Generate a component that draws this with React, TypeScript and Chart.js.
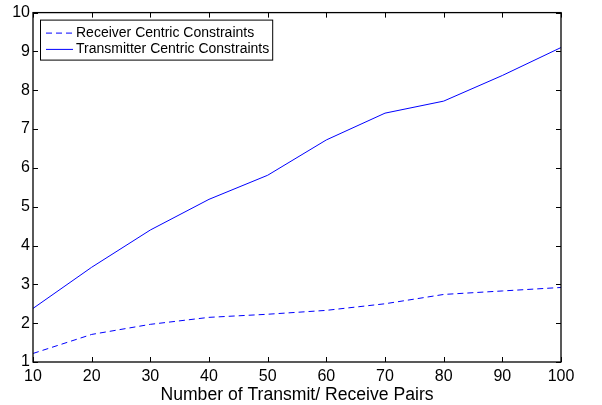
import React, { useEffect, useRef } from 'react';
import { Chart, registerables } from 'chart.js';

Chart.register(...registerables);

const pairs = [10, 20, 30, 40, 50, 60, 70, 80, 90, 100];
const receiverCentric = [1.22, 1.71, 1.97, 2.15, 2.23, 2.33, 2.5, 2.74, 2.83, 2.92];
const transmitterCentric = [2.38, 3.44, 4.4, 5.19, 5.81, 6.72, 7.41, 7.72, 8.38, 9.1];
const seriesNames = ['Receiver Centric Constraints', 'Transmitter Centric Constraints'];
const xTitle = 'Number of Transmit/ Receive Pairs';
const xRange = [10, 100];
const yRange = [1, 10];

const FAMILY = "'Liberation Sans', Arial, Helvetica, sans-serif";

const boxTicksPlugin = {
  id: 'boxTicks',
  afterDatasetsDraw(chart: any) {
    const { ctx, chartArea, scales } = chart;
    const { left, right, top, bottom } = chartArea;
    const xs = scales.x;
    const ys = scales.y;
    const len = 5;
    ctx.save();
    ctx.strokeStyle = '#000';
    ctx.lineWidth = 1;
    ctx.beginPath();
    xs.ticks.forEach((t: any) => {
      const px = Math.round(xs.getPixelForValue(t.value)) + 0.5;
      ctx.moveTo(px, bottom);
      ctx.lineTo(px, bottom - len);
      ctx.moveTo(px, top);
      ctx.lineTo(px, top + len);
    });
    ys.ticks.forEach((t: any) => {
      const py = Math.round(ys.getPixelForValue(t.value)) + 0.5;
      ctx.moveTo(left, py);
      ctx.lineTo(left + len, py);
      ctx.moveTo(right, py);
      ctx.lineTo(right - len, py);
    });
    ctx.stroke();
    ctx.lineWidth = 1.3;
    ctx.strokeRect(left, top, right - left, bottom - top);
    ctx.restore();
  },
};

const legendBoxPlugin = {
  id: 'legendBox',
  afterDraw(chart: any) {
    const { ctx, chartArea } = chart;
    const x0 = chartArea.left + 7;
    const y0 = chartArea.top + 7;
    ctx.save();
    ctx.font = `14px ${FAMILY}`;
    const texts = chart.data.datasets.map((d: any) => d.label);
    const maxW = Math.max(...texts.map((t: string) => ctx.measureText(t).width));
    const textX = x0 + 36;
    const w = textX - x0 + maxW + 3;
    const h = 40;
    ctx.fillStyle = '#fff';
    ctx.fillRect(x0, y0, w, h);
    ctx.strokeStyle = '#000';
    ctx.lineWidth = 1;
    ctx.strokeRect(x0 + 0.5, y0 + 0.5, w, h);
    chart.data.datasets.forEach((d: any, i: number) => {
      const yy = y0 + 13.5 + i * 16.3;
      ctx.strokeStyle = d.borderColor;
      ctx.lineWidth = d.borderWidth;
      ctx.setLineDash(d.borderDash || []);
      ctx.beginPath();
      ctx.moveTo(x0 + 6, yy);
      ctx.lineTo(x0 + 33, yy);
      ctx.stroke();
      ctx.setLineDash([]);
      ctx.fillStyle = '#000';
      ctx.textBaseline = 'middle';
      ctx.textAlign = 'left';
      ctx.fillText(d.label, textX, yy);
    });
    ctx.restore();
  },
};

export default function App() {
  const ref = useRef<HTMLCanvasElement>(null);
  useEffect(() => {
    if (!ref.current) return;
    const chart = new Chart(ref.current, {
      type: 'line',
      data: {
        datasets: [
          {
            label: seriesNames[0],
            data: pairs.map((p, i) => ({ x: p, y: receiverCentric[i] })),
            borderColor: 'rgb(0,0,255)',
            borderWidth: 1,
            borderDash: [6, 4],
            pointRadius: 0,
            fill: false,
            tension: 0,
          },
          {
            label: seriesNames[1],
            data: pairs.map((p, i) => ({ x: p, y: transmitterCentric[i] })),
            borderColor: 'rgb(0,0,255)',
            borderWidth: 1,
            pointRadius: 0,
            fill: false,
            tension: 0,
          },
        ],
      },
      options: {
        responsive: false,
        animation: false,
        devicePixelRatio: 1,
        layout: { padding: { top: 11, right: 41, bottom: 0, left: 0 } },
        plugins: { legend: { display: false }, tooltip: { enabled: false } },
        scales: {
          x: {
            type: 'linear',
            min: xRange[0],
            max: xRange[1],
            ticks: {
              stepSize: 10,
              color: '#000',
              font: { family: FAMILY, size: 16 },
              padding: 5,
              maxRotation: 0,
              autoSkip: false,
            },
            grid: { display: false, drawTicks: false },
            border: { display: false },
            title: {
              display: true,
              text: xTitle,
              color: '#000',
              font: { family: FAMILY, size: 17.6, lineHeight: 1 },
              padding: { top: 0, bottom: 1 },
            },
            afterFit: (s: any) => {
              s.height = 43;
            },
          },
          y: {
            type: 'linear',
            min: yRange[0],
            max: yRange[1],
            ticks: {
              stepSize: 1,
              color: '#000',
              font: { family: FAMILY, size: 16 },
              padding: 3,
            },
            grid: { display: false, drawTicks: false },
            border: { display: false },
            afterFit: (s: any) => {
              s.width = 33;
            },
          },
        },
      },
      plugins: [boxTicksPlugin, legendBoxPlugin],
    });
    return () => chart.destroy();
  }, []);
  return (
    <div style={{ position: 'fixed', left: 0, top: 0, width: 602, height: 405, background: '#fff' }}>
      <canvas ref={ref} width={602} height={405} style={{ display: 'block' }} />
    </div>
  );
}
